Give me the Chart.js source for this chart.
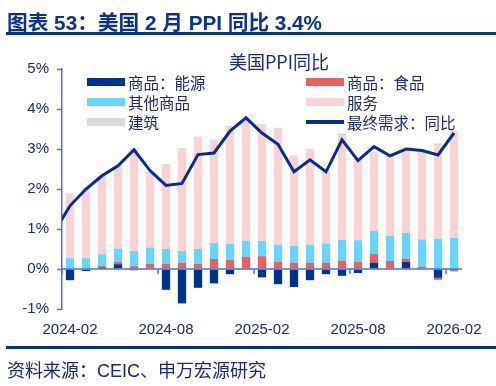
<!DOCTYPE html>
<html>
<head>
<meta charset="utf-8">
<script src="https://cdn.jsdelivr.net/npm/chart.js@4/dist/chart.umd.min.js"></script>
<style>
  body { margin: 0; background: #fff; }
  #wrap { position: relative; width: 496px; height: 386px; overflow: hidden;
          font-family: "Liberation Sans", "Noto Sans CJK SC", sans-serif; }
  #chart { position: absolute; left: 0; top: 0; }
  .head { position: absolute; left: 7px; top: 6px; font-size: 20.7px; font-weight: bold; color: #0a3090; white-space: nowrap; }
  .rule { position: absolute; left: 6px; width: 490px; height: 3px; background: #0a3090; }
  .foot { position: absolute; left: 7px; top: 356px; font-size: 18px; color: #1d2b6b; white-space: nowrap; }
  .ctitle { position: absolute; left: 179px; width: 200px; top: 48px; text-align: center;
            font-family: "Noto Sans CJK SC", sans-serif; font-size: 18px; color: #1d2b6b; }
  .lg { position: absolute; height: 20px; display: flex; align-items: center; white-space: nowrap;
        font-family: "Noto Sans CJK SC", sans-serif; font-size: 15.5px; color: #1d2b6b; }
  .lg i { display: inline-block; width: 38px; margin-right: 3px; }
</style>
</head>
<body>
<div id="wrap">
  <canvas id="chart" width="496" height="386"></canvas>
  <div class="head">图表 53：美国 2 月 PPI 同比 3.4%</div>
  <div class="rule" style="top:32px"></div>
  <div class="ctitle">美国PPI同比</div>
  <div id="legend"></div>
  <div class="rule" style="top:346px"></div>
  <div class="foot">资料来源：CEIC、申万宏源研究</div>
</div>
<script>
// months, 2024-01 is only there so the line runs in from the left edge
const months = ['2024-01','2024-02','2024-03','2024-04','2024-05','2024-06','2024-07','2024-08','2024-09','2024-10','2024-11','2024-12',
                '2025-01','2025-02','2025-03','2025-04','2025-05','2025-06','2025-07','2025-08','2025-09','2025-10','2025-11','2025-12',
                '2026-01','2026-02'];

// contributions, %pt
const energy   = [null, -0.28, -0.05, 0.04, 0.12, -0.03, 0.02, -0.52, -0.86, -0.47, -0.36, -0.13, 0, -0.21, -0.38, -0.45, -0.28, -0.13, -0.17, -0.10, 0.16, 0, 0.18, 0, -0.22, -0.03];
const food     = [null, 0, 0, 0.03, 0.06, 0.07, 0.11, 0.13, 0.16, 0.13, 0.25, 0.23, 0.31, 0.32, 0.18, 0.16, 0.16, 0.16, 0.21, 0.18, 0.22, 0.20, 0.08, 0.06, -0.05, -0.03];
const other    = [null, 0.27, 0.27, 0.30, 0.33, 0.38, 0.41, 0.37, 0.29, 0.37, 0.40, 0.40, 0.40, 0.38, 0.43, 0.42, 0.45, 0.48, 0.52, 0.54, 0.57, 0.63, 0.64, 0.68, 0.76, 0.78];
const services = [null, 1.60, 1.74, 1.93, 2.05, 2.54, 1.86, 2.08, 2.53, 2.78, 2.56, 2.90, 2.97, 2.86, 2.87, 2.23, 2.36, 1.81, 2.62, 2.00, 1.94, 1.97, 2.01, 2.16, 2.31, 2.64];
const building = [null, 0.02, 0.03, 0.03, 0.03, 0.03, 0.03, 0.04, 0.04, 0.03, 0.03, 0.045, 0.05, 0.06, 0.05, 0.03, 0.03, 0.02, 0.04, 0.03, 0.03, 0.03, 0.03, 0.03, 0.07, 0.03];
// final demand yoy, %
const finalDemand = [0.92, 1.58, 2.00, 2.33, 2.58, 2.98, 2.46, 2.09, 2.14, 2.86, 2.90, 3.45, 3.78, 3.40, 3.12, 2.43, 2.73, 2.43, 3.23, 2.71, 3.06, 2.83, 3.00, 2.96, 2.85, 3.40];

const yTicks = [-1, 0, 1, 2, 3, 4, 5];

const AXIS = '#4674d4';
const TEXT = '#1d2b6b';

const bar = (label, data, color) => ({
    type: 'bar', label: label, data: data, backgroundColor: color,
    stack: 'bars', order: 1, barPercentage: 0.52, categoryPercentage: 1
});

// zero line over the bars plus the short ticks every 6 months
const zeroLine = {
    id: 'zeroLine',
    afterDatasetsDraw(chart) {
        const {ctx, chartArea, scales} = chart;
        const x = scales.x, y = scales.y;
        const y0 = y.getPixelForValue(0);
        ctx.save();
        ctx.strokeStyle = AXIS;
        ctx.lineWidth = 1.5;
        ctx.beginPath();
        ctx.moveTo(chartArea.left, y0);
        ctx.lineTo(chartArea.right, y0);
        for (let i = 1; i < months.length; i++) {
            if (!/-(02|08)$/.test(months[i])) continue;
            const px = (x.getPixelForValue(i) + x.getPixelForValue(i - 1)) / 2;
            ctx.moveTo(px, y0);
            ctx.lineTo(px, y0 + 5);
        }
        ctx.stroke();
        ctx.restore();
    }
};

const ctx = document.getElementById('chart').getContext('2d');
const chart = new Chart(ctx, {
    data: {
        labels: months,
        datasets: [
            bar('商品：能源', energy, '#00338f'),
            bar('商品：食品', food, '#e8605f'),
            bar('其他商品', other, '#66d6ff'),
            bar('服务', services, '#fad4d4'),
            bar('建筑', building, '#d9d9d9'),
            {
                type: 'line', label: '最终需求：同比', data: finalDemand,
                borderColor: '#0a2d8c', borderWidth: 3, pointRadius: 0,
                tension: 0, stack: 'line', order: 0
            }
        ]
    },
    options: {
        responsive: false,
        animation: false,
        devicePixelRatio: 1,
        layout: { padding: { left: 0, top: 69, right: 34, bottom: 47 } },
        plugins: { legend: { display: false }, tooltip: { enabled: false } },
        scales: {
            x: {
                min: '2024-02',
                offset: true,
                grid: { display: false, drawTicks: false },
                border: { display: false },
                ticks: {
                    autoSkip: false, maxRotation: 0, padding: 12,
                    color: TEXT, font: { family: 'Liberation Sans', size: 15 },
                    callback: function(value) {
                        const l = this.getLabelForValue(value);
                        return /-(02|08)$/.test(l) ? l : '';
                    }
                },
                afterFit: s => { s.height = 30; }
            },
            y: {
                stacked: true,
                min: yTicks[0], max: yTicks[yTicks.length - 1],
                afterBuildTicks: s => { s.ticks = yTicks.map(v => ({ value: v })); },
                grid: { drawOnChartArea: false, drawTicks: true, tickLength: 5, tickColor: AXIS, tickWidth: 1.5 },
                border: { display: true, color: AXIS, width: 1.5 },
                ticks: {
                    padding: 8, color: TEXT,
                    font: { family: 'Liberation Sans', size: 15 },
                    callback: v => v + '%'
                },
                afterFit: s => { s.width = 62; }
            }
        }
    },
    plugins: [zeroLine]
});

// legend in two fixed columns, from the datasets
const cols = [87, 306];
const rows = [81.5, 102, 122];
const legend = document.getElementById('legend');
chart.data.datasets.forEach((ds, i) => {
    const item = document.createElement('div');
    item.className = 'lg';
    item.style.left = cols[i % 2] + 'px';
    item.style.top = (rows[Math.floor(i / 2)] - 10) + 'px';
    const mark = document.createElement('i');
    if (ds.type === 'line') {
        mark.style.height = '3.5px';
        mark.style.background = ds.borderColor;
    } else {
        mark.style.height = '8px';
        mark.style.background = ds.backgroundColor;
    }
    item.appendChild(mark);
    item.appendChild(document.createTextNode(ds.label));
    legend.appendChild(item);
});
</script>
</body>
</html>
